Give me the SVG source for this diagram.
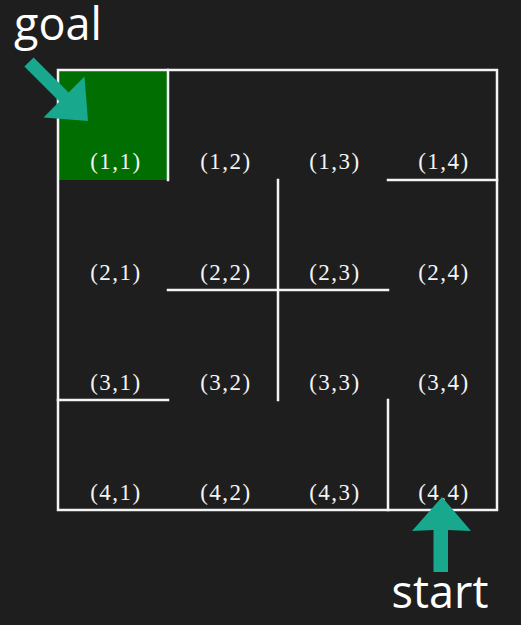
<svg xmlns="http://www.w3.org/2000/svg" width="521" height="625" viewBox="0 0 521 625">
<style>
.wall{stroke:#f4f4f4;stroke-width:2.5;fill:none;stroke-linecap:square}
.lbl{font-family:"Liberation Serif","Times New Roman",serif;font-size:23px;letter-spacing:1.5px;fill:#f4f4f4;text-anchor:middle}
.big{font-family:"Open Sans","Noto Sans",sans-serif;font-size:45px;font-weight:500;fill:#ffffff}
.arrow{fill:#17a88d}
</style>
<rect width="521" height="625" fill="#1e1e1e"/>
<g id="goal-cell"><rect x="58" y="70" width="110" height="110" fill="#006e00"/></g>
<g id="walls">
<rect class="wall" x="58" y="70" width="439" height="440"/>
<line class="wall" x1="168" y1="70" x2="168" y2="180"/>
<line class="wall" x1="388" y1="180" x2="497" y2="180"/>
<line class="wall" x1="278" y1="180" x2="278" y2="400"/>
<line class="wall" x1="168" y1="290" x2="388" y2="290"/>
<line class="wall" x1="58" y1="400" x2="168" y2="400"/>
<line class="wall" x1="388" y1="400" x2="388" y2="510"/>
</g>
<g id="labels">
<text class="lbl" x="116" y="169">(1,1)</text>
<text class="lbl" x="226" y="169">(1,2)</text>
<text class="lbl" x="335" y="169">(1,3)</text>
<text class="lbl" x="444" y="169">(1,4)</text>
<text class="lbl" x="116" y="280">(2,1)</text>
<text class="lbl" x="226" y="280">(2,2)</text>
<text class="lbl" x="335" y="280">(2,3)</text>
<text class="lbl" x="444" y="280">(2,4)</text>
<text class="lbl" x="116" y="390">(3,1)</text>
<text class="lbl" x="226" y="390">(3,2)</text>
<text class="lbl" x="335" y="390">(3,3)</text>
<text class="lbl" x="444" y="390">(3,4)</text>
<text class="lbl" x="116" y="500">(4,1)</text>
<text class="lbl" x="226" y="500">(4,2)</text>
<text class="lbl" x="335" y="500">(4,3)</text>
<text class="lbl" x="444" y="500">(4,4)</text>
</g>
<g id="goal">
<text class="big" x="14" y="40">goal</text>
<polygon class="arrow" points="33.6,57.4 68.6,92.4 84.5,76.5 88,121 43.5,117.5 59.4,101.6 24.4,66.6"/>
</g>
<g id="start">
<polygon class="arrow" points="433.5,572 433.5,530 412,531 442,497 471,531 448,530 448,572"/>
<text class="big" x="440" y="608" text-anchor="middle">start</text>
</g>
</svg>
